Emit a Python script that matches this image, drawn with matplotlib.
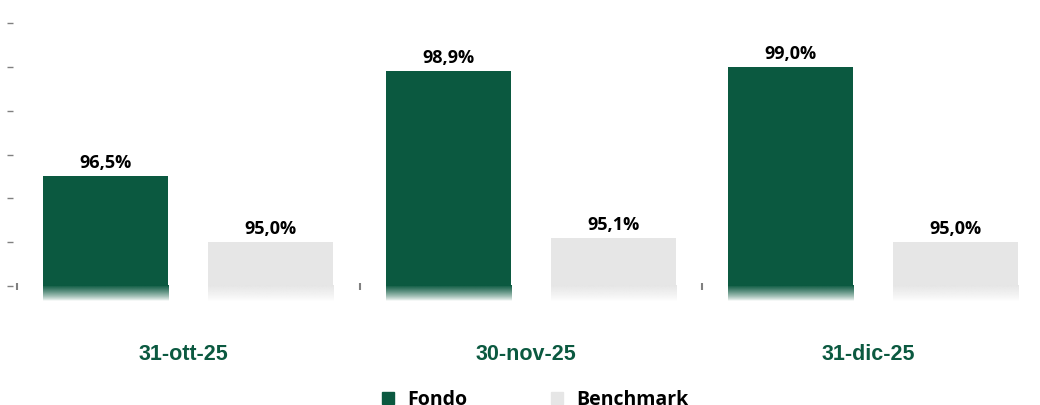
import matplotlib
matplotlib.use("Agg")
from matplotlib import pyplot as plt
from matplotlib.patches import Rectangle
import matplotlib.transforms as mtransforms
import numpy as np

# Data
dates = ["31-ott-25", "30-nov-25", "31-dic-25"]
fondo = [96.5, 98.9, 99.0]
benchmark = [95.0, 95.1, 95.0]
series_names = ["Fondo", "Benchmark"]

green = "#0B5940"
grey = "#E6E6E6"
base = 94.0
ymin, ymax = 93.658, 100.525

fig = plt.figure(figsize=(10.4, 4.05), dpi=100)
ax = fig.add_axes([17 / 1040, 104 / 405, 1027.5 / 1040, 301 / 405])

x = np.arange(len(dates))
w = 0.365
off = 0.241

def draw_bars(xs, vals, color):
    ax.bar(xs, [v - base for v in vals], bottom=base, width=w, color=color, zorder=2)
    rgb = matplotlib.colors.to_rgb(color)
    grad = np.zeros((50, 1, 4))
    grad[:, 0, :3] = rgb
    grad[:, 0, 3] = np.linspace(1, 0, 50) ** 0.8
    for xi, v in zip(xs, vals):
        ax.imshow(grad, extent=[xi - w / 2, xi + w / 2, ymin, base + 0.01], aspect="auto",
                  origin="upper", zorder=2, interpolation="bilinear")
        ax.annotate(f"{v:.1f}%".replace(".", ","), (xi, v), xytext=(0, 3),
                    textcoords="offset points", ha="center", va="bottom",
                    fontsize=13, fontweight="bold", family="Open Sans", color="black")

draw_bars(x - off, fondo, green)
draw_bars(x + off, benchmark, grey)

ax.set_xlim(-0.5, 2.5)
ax.set_ylim(ymin, ymax)

# Axes styling
for s in ["top", "right"]:
    ax.spines[s].set_visible(False)
ax.spines["left"].set_visible(False)
ax.spines["left"].set_position(("outward", 3))
ax.spines["bottom"].set_visible(False)
ax.spines["bottom"].set_position(("outward", -8))

ax.set_yticks(np.arange(94, 101, 1))
ax.set_yticklabels([])
ax.tick_params(axis="y", direction="out", length=4, width=1, color="#808080")

ax.set_xticks(x)
ax.set_xticklabels(dates, fontsize=15.5, fontweight="bold", family="Liberation Sans", color=green)
ax.tick_params(axis="x", which="major", length=0, pad=39)
shift = mtransforms.ScaledTranslation(-5 / 100, 0, fig.dpi_scale_trans)
for lbl in ax.get_xticklabels():
    lbl.set_transform(lbl.get_transform() + shift)
ax.set_xticks([-0.5, 0.5, 1.5, 2.5], minor=True)
ax.tick_params(axis="x", which="minor", direction="in", length=5, width=1.5, color="#808080")

# Legend
handles = [Rectangle((0, 0), 1, 1, color=green), Rectangle((0, 0), 1, 1, color=grey)]
leg = fig.legend(handles, series_names, loc="center", bbox_to_anchor=(535 / 1040, 1 - 400 / 405),
                 ncol=2, frameon=False, handlelength=0.62, handleheight=0.62,
                 handletextpad=0.67, columnspacing=4.3,
                 prop={"family": "Open Sans", "weight": "bold", "size": 14})

fig.savefig("out.png", dpi=100)
